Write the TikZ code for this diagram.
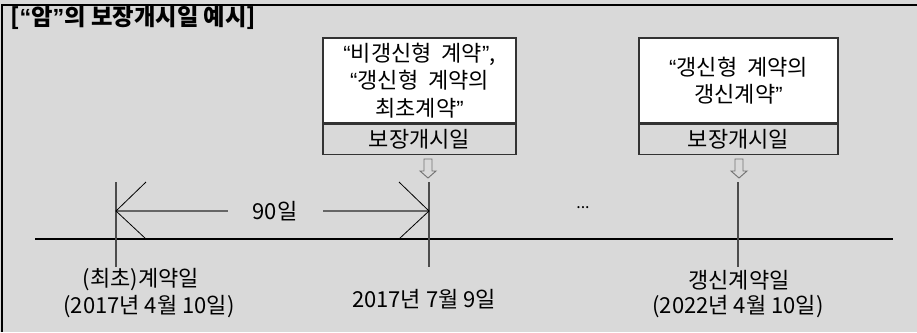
\documentclass[tikz,border=0pt]{standalone}
\usepackage{fontspec}
\setmainfont{Noto Sans CJK KR}
\newfontfamily\qfont{Liberation Sans}
\newcommand{\lqm}{{\qfont “}}
\newcommand{\rqm}{{\qfont ”}}
\begin{document}
\begin{tikzpicture}[x=0.75pt,y=-0.75pt,
  txt/.style={font=\fontsize{16.5}{20.6}\selectfont, inner sep=0pt},
  topbox/.style={draw=black!80, line width=0.8pt, fill=white, inner sep=0pt, align=center,
    font=\fontsize{16.5}{20.6}\selectfont, minimum height=63.75pt},
  labbox/.style={draw=black!80, line width=0.8pt, fill=bgc, inner sep=0pt,
    font=\fontsize{16.5}{20.6}\selectfont, minimum height=22.5pt, anchor=north},
  tick/.style={draw=black!70, line width=0.8pt},
  dimline/.style={draw=black!60, line width=1.2pt},
  head/.style={draw=black, line width=0.6pt},
  hollow/.style={draw=black!55, line width=0.7pt, fill=bgc}]
\definecolor{bgc}{HTML}{D9D9D9}
\useasboundingbox (0,0) rectangle (917,332);
\fill[bgc] (0,0) rectangle (917,332);
\draw[line width=1.2pt] (2,332) -- (2,5) -- (917,5);

% title
\node[anchor=west, inner sep=0pt, font=\fontsize{17.5}{18}\selectfont\bfseries] (title) at (10,18) {[\lqm 암\rqm 의 보장개시일 예시]};

% boxes
\node[topbox, minimum width=144.75pt] (b1) at (419.5,80.5) {\lqm 비갱신형\ \ 계약\rqm ,\\ \lqm 갱신형\ \ 계약의\\ 최초계약\rqm};
\node[labbox, minimum width=144.75pt] (b1l) at (b1.south) {보장개시일};
\node[topbox, minimum width=149.25pt] (b2) at (738.5,80.5) {\lqm 갱신형\ \ 계약의\\ 갱신계약\rqm};
\node[labbox, minimum width=149.25pt] (b2l) at (b2.south) {보장개시일};

% hollow arrows
\draw[hollow] (424,159) -- (432,159) -- (432,171) -- (436,171) -- (428,178) -- (420,171) -- (424,171) -- cycle;
\draw[hollow] (735,159) -- (743,159) -- (743,171) -- (747,171) -- (739,178) -- (731,171) -- (735,171) -- cycle;

% timeline
\coordinate (L0) at (35,239);
\coordinate (L1) at (893,239);
\draw[line width=1.1pt] (L0) -- (L1);

\coordinate (t1a) at (116,182); \coordinate (t1b) at (116,267);
\coordinate (t2a) at (429,182); \coordinate (t2b) at (429,267);
\coordinate (t3a) at (738,182); \coordinate (t3b) at (738,267);
\draw[tick] (t1a) -- (t1b);
\draw[tick] (t2a) -- (t2b);
\draw[tick] (t3a) -- (t3b);

% dimension
\coordinate (d1) at (116,211);
\coordinate (d2) at (429,211);
\node[txt] (ninety) at (275,211) {90일};
\draw[dimline] (d1) -- (228,211);
\draw[dimline] (323,211) -- (d2);
\draw[head] (146,182) -- (d1) -- (146,239);
\draw[head] (399,182) -- (d2) -- (399,239);

\node[txt, font=\fontsize{12}{12}\selectfont] (dots) at (583,208) {...};

% labels
\node[txt] (lab1) at (141,280) {(최초)계약일};
\node[txt] (lab1d) at (149,307) {(2017년 4월 10일)};
\node[txt] (lab2) at (424,299) {2017년 7월 9일};
\node[txt] (lab3) at (739,280) {갱신계약일};
\node[txt] (lab3d) at (738,307) {(2022년 4월 10일)};
\end{tikzpicture}
\end{document}
